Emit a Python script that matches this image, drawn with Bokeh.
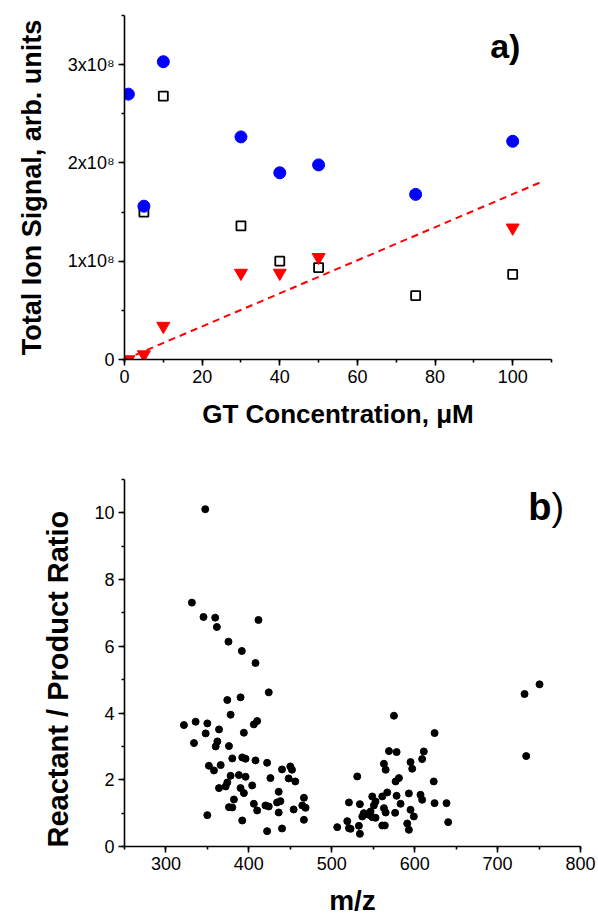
from bokeh.plotting import figure
from bokeh.layouts import column
from bokeh.models import (Range1d, SingleIntervalTicker, CustomJSTickFormatter, Label)
from bokeh.embed import file_html
from bokeh.resources import INLINE

FONT = "Liberation Sans"

# ---------------- panel a data ----------------
conc_circle = [1, 5, 10, 30, 40, 50, 75, 100]
signal_circle = [2.70e8, 1.56e8, 3.03e8, 2.265e8, 1.90e8, 1.98e8, 1.68e8, 2.22e8]

conc_square = [5, 10, 30, 40, 50, 75, 100]
signal_square = [1.50e8, 2.68e8, 1.36e8, 1.00e8, 0.935e8, 0.65e8, 0.867e8]

conc_tri = [1, 5, 10, 30, 40, 50, 100]
signal_tri = [0.0, 0.05e8, 0.34e8, 0.88e8, 0.88e8, 1.04e8, 1.34e8]

fit_x = [0, 107]
fit_y = [0, 1.80e8]

# ---------------- panel b data ----------------
mz = [321.7, 335.8, 333.8, 349.9, 347.9, 364, 362, 360, 376, 374, 378, 390, 394, 406, 410, 424, 408,
      351.8, 357.9, 366, 378, 380, 392, 396, 408, 422, 388, 396, 364, 372, 374, 390, 394, 404, 382,
      376, 380, 406, 410, 420, 424, 426, 349.9, 392, 422, 440, 436, 434, 438, 436, 440, 448, 454,
      450, 456, 452,
      466.4, 464.4, 468.4, 466.4, 506.6, 518.7, 520.7, 522.7, 520.7, 530.7, 533.9, 532.7, 533.9,
      536.8, 538.7, 544.8, 546.8, 548.8, 550.8, 552.8, 548.8, 552.8, 560.9, 566.9, 562.9, 565,
      560.9, 564, 562.9, 565, 569, 575, 578.2, 577, 581, 578.2, 583, 576.4, 591, 593, 593, 595,
      597, 595, 599, 607, 609, 609, 611, 623, 624, 624, 638.4, 640.4, 732.5, 750.6, 734.5,
      347.4, 331.3, 345.3, 359.4, 361.4, 375.4, 391.5, 411.6]
ratio = [3.64, 3.74, 3.10, 3.69, 3.39, 3.51, 3.15, 3.00, 3.01, 4.39, 3.95, 4.47, 3.41, 3.66, 3.76, 4.62, 5.50,
         2.42, 2.28, 2.44, 2.12, 2.64, 2.67, 2.63, 2.58, 2.51, 2.14, 2.09, 1.75, 1.80, 1.92, 1.75, 1.60, 1.83, 1.41,
         1.18, 1.17, 1.28, 1.08, 1.23, 1.20, 2.05, 0.94, 0.78, 0.46, 0.54, 1.64, 1.32, 1.36, 1.02, 2.31, 2.04, 1.11,
         2.40, 1.95, 2.30,
         1.46, 1.23, 1.16, 0.80, 0.58, 0.76, 0.55, 0.53, 1.32, 2.10, 1.27, 0.62, 0.38,
         0.90, 1.00, 0.95, 1.05, 1.50, 1.23, 1.35, 0.88, 0.86, 1.50, 1.62, 1.15, 1.02,
         0.63, 0.63, 2.48, 2.30, 2.86, 3.92, 2.83, 1.95, 2.05, 1.52, 1.28, 1.01, 0.69, 0.50, 1.59, 2.53,
         2.33, 1.10, 0.90, 1.55, 1.40, 2.62, 2.85, 1.95, 3.40, 1.30, 1.30, 0.73, 4.57, 4.86, 2.71,
         10.11, 7.31, 6.88, 6.86, 6.58, 6.14, 5.86, 6.79]


def style_axes(p, tick_size="18px", xlabel_size="25px", ylabel_size="25px", xstand=14, ystand=20):
    p.outline_line_color = None
    p.xgrid.visible = False
    p.ygrid.visible = False
    for ax in (p.xaxis[0], p.yaxis[0]):
        ax.axis_line_width = 1.6
        ax.axis_line_color = "black"
        ax.major_tick_line_width = 1.6
        ax.minor_tick_line_width = 1.6
        ax.major_tick_in = 0
        ax.major_tick_out = 6
        ax.minor_tick_in = 0
        ax.minor_tick_out = 3
        ax.major_label_text_font = FONT
        ax.major_label_text_font_size = tick_size
        ax.major_label_text_color = "black"
        ax.axis_label_text_font = FONT
        ax.axis_label_text_font_style = "bold"
        ax.axis_label_text_color = "black"
        ax.major_label_standoff = 4
    p.xaxis[0].axis_label_text_font_size = xlabel_size
    p.yaxis[0].axis_label_text_font_size = ylabel_size
    p.xaxis[0].axis_label_standoff = xstand
    p.yaxis[0].axis_label_standoff = ystand


# ---------------- panel a ----------------
pa = figure(width=598, height=440, output_backend="svg", toolbar_location=None,
            x_range=Range1d(0, 110), y_range=Range1d(0, 3.5e8),
            frame_width=427, frame_height=344,
            min_border_left=117, min_border_right=54, min_border_top=15, min_border_bottom=81,
            x_axis_label="GT Concentration, \u03bcM", y_axis_label="Total Ion Signal, arb. units")
pa.xaxis.ticker = SingleIntervalTicker(interval=20, num_minor_ticks=2)
pa.yaxis.ticker = SingleIntervalTicker(interval=1e8, num_minor_ticks=2)
pa.yaxis.formatter = CustomJSTickFormatter(
    code="return tick == 0 ? '0' : (tick/1e8).toFixed(0) + 'x10\u2078';")
style_axes(pa, xlabel_size="26px", ylabel_size="27px", xstand=13, ystand=18)

pa.line(fit_x, fit_y, line_color="#ff0000", line_width=2, line_dash="7 5")
pa.scatter(conc_square, signal_square, marker="square", size=9, fill_color="white",
           line_color="black", line_width=1.8)
pa.scatter(conc_circle, signal_circle, marker="circle", size=12, fill_color="#0000ff",
           line_color="#0000ff")
pa.scatter(conc_tri, signal_tri, marker="inverted_triangle", size=13, fill_color="#ff0000",
           line_color="#ff0000")
pa.add_layout(Label(x=94.2, y=3.19e8, text="a)", text_font=FONT, text_font_style="bold",
                    text_font_size="34px", text_align="left", text_baseline="alphabetic",
                    text_color="black"))

# ---------------- panel b ----------------
pb = figure(width=598, height=478, output_backend="svg", toolbar_location=None,
            x_range=Range1d(250, 800), y_range=Range1d(0, 11),
            frame_width=456, frame_height=367,
            min_border_left=124, min_border_right=18, min_border_top=39, min_border_bottom=72,
            x_axis_label="m/z",
            y_axis_label="Reactant / Product Ratio" + "\u00a0" * 4)
pb.xaxis.ticker = SingleIntervalTicker(interval=100, num_minor_ticks=2)
pb.yaxis.ticker = SingleIntervalTicker(interval=2, num_minor_ticks=2)
style_axes(pb, xlabel_size="28px", ylabel_size="29px", xstand=12, ystand=17)

pb.scatter(mz, ratio, marker="circle", size=7, fill_color="black", line_color="black")
pb.add_layout(Label(x=765, y=10.19, text="b", text_font=FONT, text_font_style="bold",
                    text_font_size="38px", text_align="right", text_baseline="alphabetic",
                    text_color="black"))
pb.add_layout(Label(x=765, y=10.19, text=")", text_font=FONT, text_font_style="normal",
                    text_font_size="38px", text_align="left", text_baseline="alphabetic",
                    text_color="black"))

layout = column(pa, pb, spacing=0)
open("out.html", "w").write(file_html(layout, INLINE))
